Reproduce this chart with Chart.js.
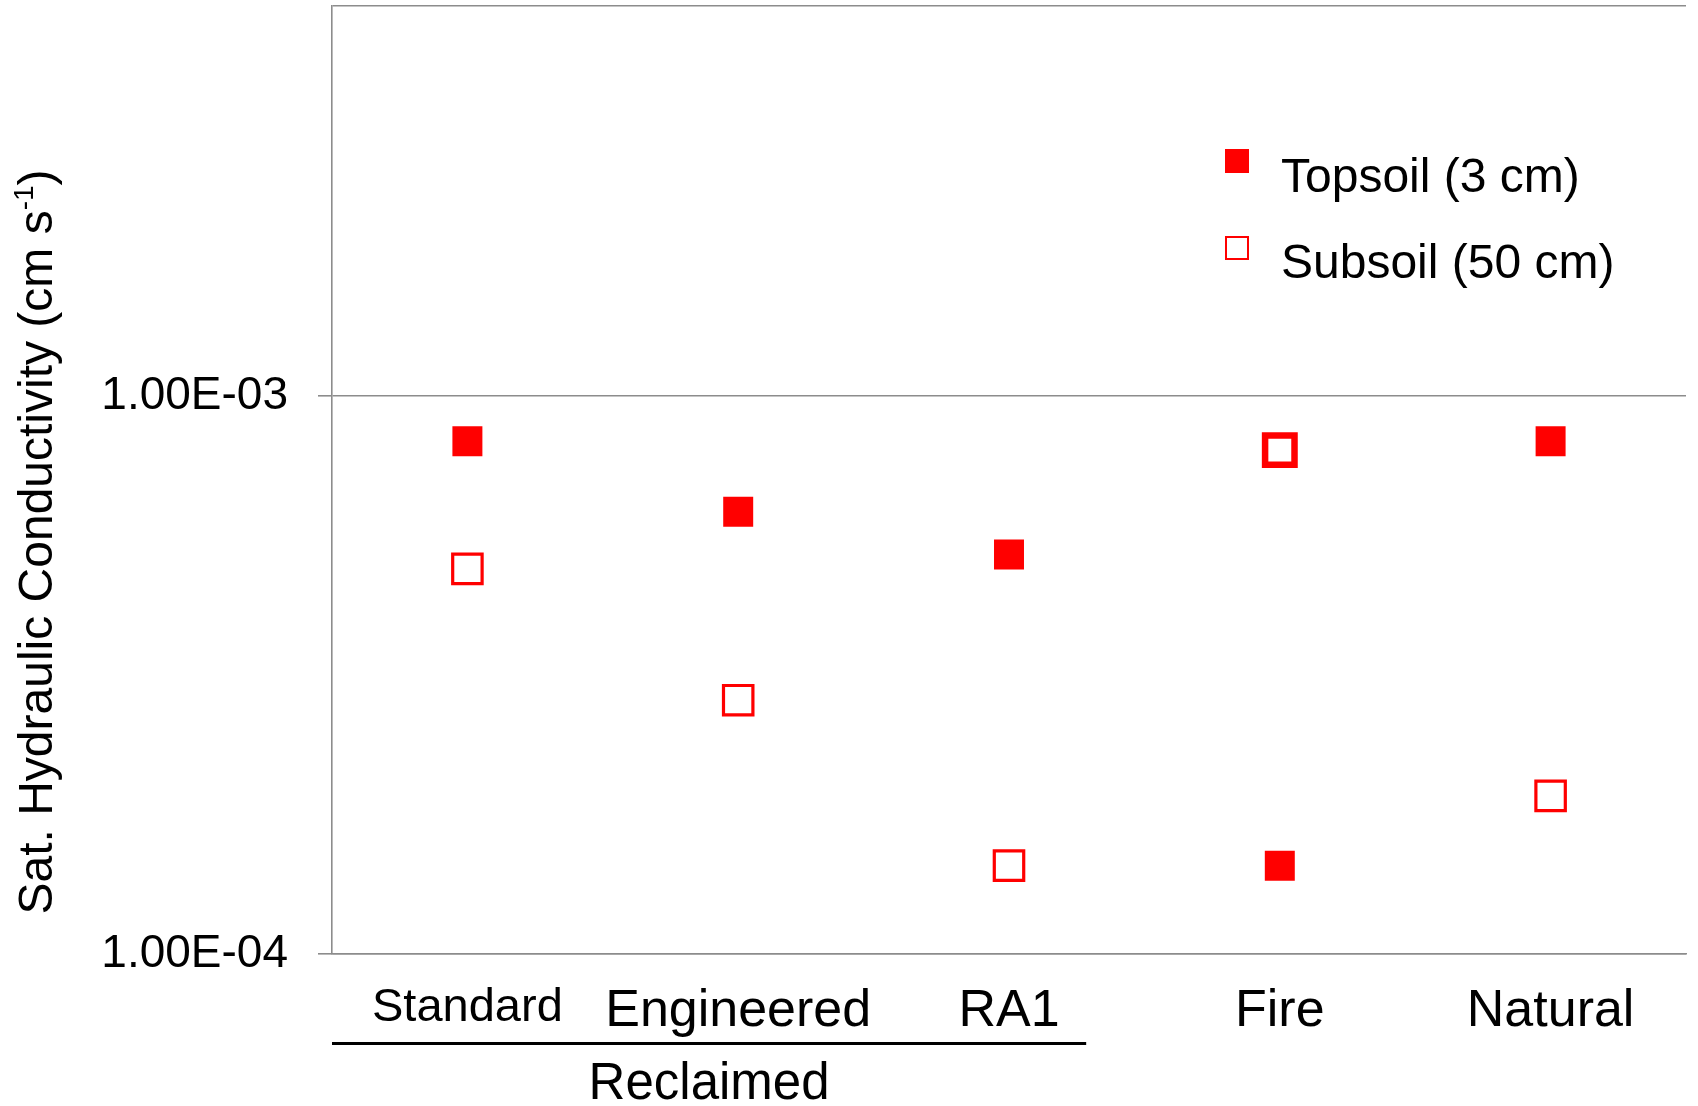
<!DOCTYPE html>
<html>
<head>
<meta charset="utf-8">
<script src="https://cdn.jsdelivr.net/npm/chart.js@4.4.1/dist/chart.umd.min.js"></script>
<style>
    html, body { margin: 0; padding: 0; background: #fff; }
    #wrap { width: 1698px; height: 1106px; }
</style>
</head>
<body>
<div id="wrap"><canvas id="ksatChart" width="1698" height="1106"></canvas></div>
<script>
const sites = ['Standard', 'Engineered', 'RA1', 'Fire', 'Natural'];
const topsoil = [8.3e-4, 6.2e-4, 5.2e-4, 1.44e-4, 8.3e-4];
const subsoil = [4.9e-4, 2.85e-4, 1.44e-4, 8.0e-4, 1.92e-4];
const yTickValues = [1e-4, 1e-3];
const yTickLabels = ['1.00E-04', '1.00E-03'];
const legendLabels = ['Topsoil (3 cm)', 'Subsoil (50 cm)'];
const groupLabel = 'Reclaimed';

const FONT = "'Liberation Sans', Arial, sans-serif";
const RED = '#ff0000';
const GREY = '#8c8c8c';
const Y_MIN = 1e-4;
const Y_MAX = 5e-3;

// axis title (with superscript), legend and the "Reclaimed" bracket
const extras = {
    id: 'extras',
    afterDraw(chart) {
        const ctx = chart.ctx;
        const x = chart.scales.x;
        const area = chart.chartArea;

        // y title
        ctx.save();
        ctx.fillStyle = '#000';
        ctx.textBaseline = 'alphabetic';
        ctx.translate(52, 542);
        ctx.rotate(-Math.PI / 2);
        const main = 'Sat. Hydraulic Conductivity (cm s';
        const sup = '-1';
        const close = ')';
        ctx.font = '48px ' + FONT;
        const wMain = ctx.measureText(main).width;
        const wClose = ctx.measureText(close).width;
        ctx.font = '28px ' + FONT;
        const wSup = ctx.measureText(sup).width;
        let cx = -(wMain + wSup + wClose) / 2;
        ctx.font = '48px ' + FONT;
        ctx.fillText(main, cx, 0);
        cx += wMain;
        ctx.font = '28px ' + FONT;
        ctx.fillText(sup, cx, -19);
        cx += wSup;
        ctx.font = '48px ' + FONT;
        ctx.fillText(close, cx, 0);
        ctx.restore();

        // legend
        ctx.save();
        ctx.fillStyle = RED;
        ctx.fillRect(1225, 149, 24, 24);
        ctx.strokeStyle = RED;
        ctx.lineWidth = 2;
        ctx.strokeRect(1226, 237, 22, 22);
        ctx.fillStyle = '#000';
        ctx.font = '48px ' + FONT;
        ctx.textBaseline = 'alphabetic';
        ctx.fillText(legendLabels[0], 1281, 192);
        ctx.fillText(legendLabels[1], 1281, 278);
        ctx.restore();

        // Reclaimed bracket under the first three sites
        const step = x.getPixelForValue(1) - x.getPixelForValue(0);
        const x0 = area.left;
        const x1 = x.getPixelForValue(2) + 0.285 * step;
        ctx.save();
        ctx.strokeStyle = '#000';
        ctx.lineWidth = 3;
        ctx.beginPath();
        ctx.moveTo(x0, 1043.5);
        ctx.lineTo(x1, 1043.5);
        ctx.stroke();
        ctx.fillStyle = '#000';
        ctx.font = '51px ' + FONT;
        ctx.textAlign = 'center';
        ctx.textBaseline = 'alphabetic';
        ctx.fillText(groupLabel, (x0 + x1) / 2, 1099);
        ctx.restore();
    }
};

new Chart(document.getElementById('ksatChart'), {
    type: 'line',
    data: {
        labels: sites,
        datasets: [{
            label: legendLabels[0],
            data: topsoil,
            showLine: false,
            pointStyle: 'rect',
            pointRadius: 21.2,
            pointBackgroundColor: RED,
            pointBorderColor: RED,
            pointBorderWidth: 0
        }, {
            label: legendLabels[1],
            data: subsoil,
            showLine: false,
            pointStyle: 'rect',
            pointRadius: 20.8,
            pointBackgroundColor: '#fff',
            pointBorderColor: RED,
            pointBorderWidth: c => c.dataIndex === 3 ? 6.5 : 3.2
        }]
    },
    options: {
        responsive: false,
        animation: false,
        layout: { autoPadding: false, padding: { top: 6, right: 12, bottom: 0, left: 0 } },
        plugins: {
            legend: { display: false },
            tooltip: { enabled: false }
        },
        scales: {
            x: {
                type: 'category',
                offset: true,
                grid: { display: false },
                border: { display: true, color: GREY, width: 1.6 },
                ticks: {
                    color: '#000',
                    font: c => ({ size: c.index === 0 ? 47 : 52, family: FONT }),
                    padding: 18,
                    maxRotation: 0,
                    autoSkip: false
                },
                afterFit: s => {
                    s.height = 152;
                    s.paddingLeft = 0;
                    s.paddingRight = 0;
                }
            },
            y: {
                type: 'logarithmic',
                min: Y_MIN,
                max: Y_MAX,
                afterBuildTicks: s => {
                    s.ticks = yTickValues.concat([Y_MAX]).map(v => ({ value: v }));
                },
                afterFit: s => {
                    s.width = 332;
                    s.paddingTop = 0;
                    s.paddingBottom = 0;
                },
                ticks: {
                    color: '#000',
                    font: { size: 46, family: FONT },
                    padding: 30,
                    autoSkip: false,
                    callback: v => {
                        const i = yTickValues.indexOf(v);
                        return i < 0 ? '' : yTickLabels[i];
                    }
                },
                grid: {
                    color: GREY,
                    lineWidth: 1.6,
                    tickLength: 14,
                    tickColor: c => (c.tick && c.tick.value === Y_MAX) ? 'rgba(0,0,0,0)' : GREY
                },
                border: { color: GREY, width: 1.6 }
            }
        }
    },
    plugins: [extras]
});
</script>
</body>
</html>
